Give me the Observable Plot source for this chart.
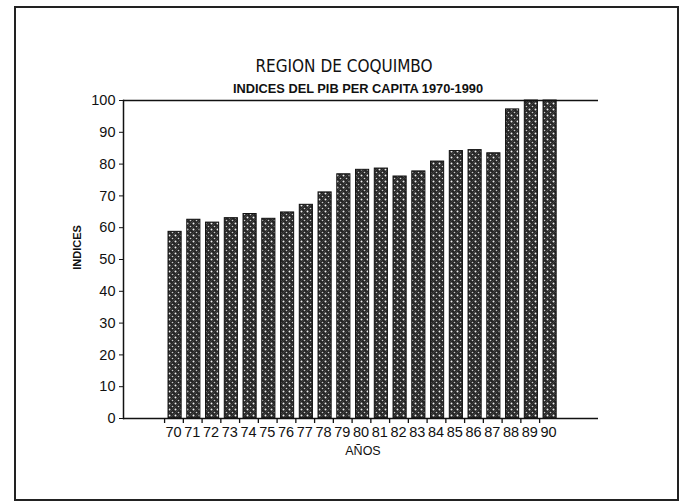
<!DOCTYPE html>
<html>
<head>
<meta charset="utf-8">
<script src="https://cdn.jsdelivr.net/npm/d3@7"></script>
<script src="https://cdn.jsdelivr.net/npm/@observablehq/plot@0.6"></script>
<style>
  body { margin: 0; background: #fff; }
  #wrap { position: relative; width: 683px; height: 503px; overflow: hidden; }
  #border { position: absolute; left: 14px; top: 6px; width: 665px; height: 495px; border: 2px solid #222; box-sizing: border-box; pointer-events: none; }
</style>
</head>
<body>
<div id="wrap"><div id="border"></div></div>
<script>
const years = ["70","71","72","73","74","75","76","77","78","79","80","81","82","83","84","85","86","87","88","89","90"];
const indices = [58.7,62.5,61.6,63,64.3,62.8,64.8,67.2,71.1,76.8,78.2,78.6,76.1,77.7,80.8,84.1,84.4,83.4,97.2,100,100];
const yTicks = [0,10,20,30,40,50,60,70,80,90,100];
const title = "REGION DE COQUIMBO";
const subtitle = "INDICES DEL PIB PER CAPITA 1970-1990";
const xLabel = "AÑOS";
const yLabel = "INDICES";

const data = years.map((y, i) => ({year: y, value: indices[i]}));
const font = "'Liberation Sans', Arial, sans-serif";

const chart = Plot.plot({
  width: 683,
  height: 503,
  marginLeft: 123,
  marginRight: 85,
  marginTop: 100,
  marginBottom: 85,
  style: {fontFamily: font, background: "transparent", color: "#111"},
  x: {domain: years, range: [162.4, 561.8], padding: 0.3, round: false},
  y: {domain: [0, 100]},
  marks: [
    Plot.barY(data, {x: "year", y: "value", fill: "url(#hatch)", stroke: "#111", strokeWidth: 1}),
    Plot.ruleX(years, {x: d => d, y1: 0, y2: 0, insetBottom: -5, dx: -10.5, stroke: "#111", strokeWidth: 1.3}),
    Plot.ruleY([0, 100], {stroke: "#111", strokeWidth: 1.5}),
    Plot.frame({anchor: "left", stroke: "#111", strokeWidth: 1.5}),
    Plot.axisY({ticks: yTicks, tickSize: 4, tickPadding: 4, label: null, fontSize: 14.5, fill: "#111"}),
    Plot.axisX({tickSize: 0, tickPadding: 8, label: null, fontSize: 14.5, fontWeight: 500, fill: "#111", dx: -1.5}),
    Plot.text([title], {frameAnchor: "top", dx: -17, dy: -29, lineAnchor: "bottom", fontSize: 17, fontFamily: "'Liberation Sans Narrow', 'DejaVu Sans Condensed', sans-serif", fill: "#111"}),
    Plot.text([subtitle], {frameAnchor: "top", dx: -3, dy: -8, lineAnchor: "bottom", fontSize: 12.8, fontWeight: "bold", fill: "#111"}),
    Plot.text([xLabel], {frameAnchor: "bottom", dx: 2, dy: 36, lineAnchor: "bottom", fontSize: 12.5, fill: "#111"}),
    Plot.text([yLabel], {frameAnchor: "left", dx: -46, dy: -12, rotate: -90, textAnchor: "middle", fontSize: 11, fontWeight: "bold", fill: "#111"})
  ]
});

const svg = d3.select(chart);
const defs = svg.insert("defs", ":first-child");
const pat = defs.append("pattern").attr("id", "hatch").attr("patternUnits", "userSpaceOnUse").attr("width", 6).attr("height", 6);
pat.append("rect").attr("width", 6).attr("height", 6).attr("fill", "#262626");
pat.append("circle").attr("cx", 1.5).attr("cy", 1.5).attr("r", 1).attr("fill", "#f2f2f2");
pat.append("circle").attr("cx", 4.5).attr("cy", 4.5).attr("r", 0.8).attr("fill", "#cfcfcf");
pat.append("path").attr("d", "M0,6 L6,0").attr("stroke", "#555").attr("stroke-width", 0.6);

document.getElementById("wrap").prepend(chart);
</script>
</body>
</html>
